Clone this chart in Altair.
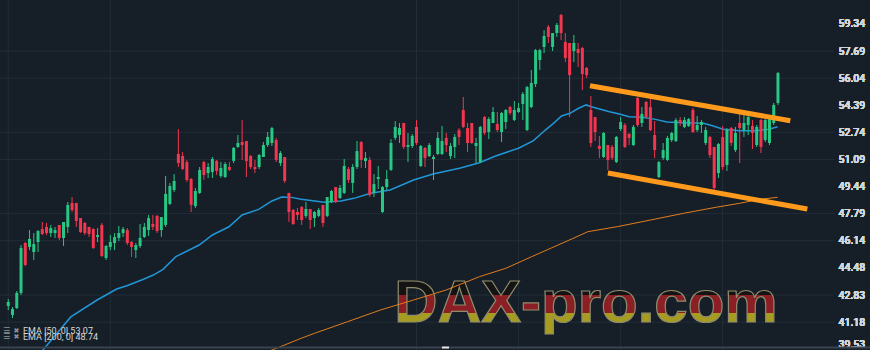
import altair as alt
import pandas as pd

opens = [42.16, 41.62, 42.04, 42.96, 46.00, 45.76, 45.45, 46.06, 46.85, 46.98,
         46.61, 46.61, 47.10, 46.31, 46.98, 48.44, 48.44, 47.52, 47.22, 46.98,
         46.85, 46.37, 47.10, 45.09, 45.76, 46.00, 46.31, 46.61, 46.79, 46.06,
         45.57, 45.82, 46.37, 46.79, 47.16, 47.65, 46.79, 47.10, 48.38, 49.23,
         51.42, 51.30, 50.93, 49.90, 48.25, 49.05, 50.93, 50.26, 50.32, 51.00,
         50.08, 50.02, 50.63, 51.00, 51.85, 52.15, 52.21, 51.30, 50.63, 50.63,
         51.24, 51.97, 52.09, 52.27, 50.87, 51.24, 49.05, 48.01, 47.89, 48.19,
         47.65, 48.07, 47.52, 47.65, 48.32, 47.65, 48.50, 49.41, 48.74, 49.05,
         50.51, 49.66, 50.63, 52.15, 50.99, 51.06, 49.05, 49.90, 47.89, 49.41,
         50.45, 52.40, 52.58, 53.31, 51.85, 51.91, 53.07, 50.69, 51.79, 51.30,
         51.12, 51.42, 51.42, 52.40, 51.30, 51.85, 52.88, 54.10, 53.00, 53.31,
         51.91, 50.93, 53.67, 52.76, 53.31, 53.25, 52.76, 53.37, 54.28, 53.49,
         53.98, 54.47, 52.88, 54.28, 55.68, 57.15, 57.94, 59.16, 57.94, 58.79,
         59.89, 58.24, 58.18, 57.69, 57.82, 57.88, 56.66, 54.10, 53.67, 51.91,
         51.24, 51.97, 51.85, 50.93, 52.94, 53.19, 52.64, 51.97, 54.83, 53.31,
         54.59, 54.28, 52.58, 50.02, 51.18, 51.06, 52.27, 52.21, 53.49, 53.07,
         53.13, 54.10, 52.88, 53.19, 52.09, 52.46, 51.85, 50.26, 52.46, 50.75,
         53.00, 51.66, 53.31, 52.88, 53.19, 53.13, 51.97, 53.49, 52.27, 52.09,
         53.31, 54.53]

highs = [42.59, 42.10, 43.08, 45.88, 46.06, 46.79, 46.61, 46.79, 47.28, 47.22,
         47.10, 46.98, 47.10, 47.28, 48.50, 48.80, 48.44, 47.52, 47.28, 46.98,
         46.91, 46.91, 47.22, 45.88, 46.49, 46.61, 47.04, 46.98, 46.91, 46.12,
         46.00, 47.16, 47.22, 47.71, 47.71, 47.71, 47.58, 50.08, 49.66, 50.20,
         52.94, 51.54, 51.06, 49.96, 49.35, 50.63, 51.00, 50.87, 51.24, 51.06,
         50.93, 50.93, 50.93, 51.85, 52.58, 53.49, 52.21, 51.36, 51.06, 51.42,
         52.15, 52.76, 53.07, 52.40, 51.60, 51.24, 49.05, 48.07, 48.13, 48.25,
         48.50, 48.07, 47.95, 48.13, 48.32, 48.80, 49.23, 49.41, 49.53, 51.12,
         50.63, 50.81, 52.21, 52.21, 51.54, 51.24, 50.20, 50.69, 49.47, 50.45,
         52.33, 53.43, 53.31, 53.31, 52.70, 52.64, 53.49, 51.97, 51.85, 52.09,
         51.36, 52.76, 53.13, 52.70, 52.09, 52.64, 53.00, 54.89, 53.31, 53.31,
         52.40, 53.13, 53.74, 53.67, 54.28, 53.98, 53.98, 54.16, 54.35, 54.65,
         54.53, 55.20, 55.56, 56.54, 57.82, 57.82, 58.97, 59.28, 58.79, 59.40,
         59.95, 58.79, 58.18, 58.67, 58.18, 57.94, 56.72, 54.95, 53.67, 52.52,
         52.76, 51.97, 51.97, 52.52, 53.67, 53.31, 52.70, 53.19, 54.89, 54.28,
         54.65, 54.89, 53.43, 51.00, 52.09, 52.52, 52.76, 53.61, 53.67, 53.67,
         53.61, 54.22, 53.74, 53.49, 53.07, 52.52, 51.85, 52.09, 53.13, 53.00,
         53.07, 53.07, 53.92, 53.86, 53.86, 53.49, 53.19, 53.55, 53.55, 53.61,
         54.53, 56.42]

lows = [41.92, 41.43, 41.98, 42.83, 44.60, 45.57, 44.97, 45.45, 46.49, 46.49,
        46.37, 46.31, 46.18, 45.82, 46.61, 47.89, 46.98, 46.61, 46.49, 46.37,
        45.64, 46.06, 45.15, 44.97, 45.57, 45.57, 46.12, 46.37, 45.88, 45.15,
        45.09, 45.70, 46.31, 46.43, 46.79, 46.61, 46.37, 46.98, 48.32, 49.11,
        50.63, 50.45, 49.72, 47.89, 48.13, 48.99, 49.84, 49.96, 49.96, 50.14,
        49.96, 49.96, 50.39, 50.87, 51.79, 51.06, 50.02, 50.51, 50.26, 50.51,
        51.24, 51.85, 51.91, 50.93, 50.69, 49.66, 47.28, 47.10, 47.40, 47.10,
        47.52, 46.85, 46.98, 47.58, 46.98, 47.58, 48.44, 48.44, 48.68, 48.99,
        49.66, 49.05, 50.51, 50.57, 50.57, 48.80, 48.80, 49.29, 47.83, 49.23,
        50.39, 52.27, 52.09, 51.73, 50.93, 51.79, 51.97, 50.63, 50.63, 51.24,
        49.84, 51.36, 51.36, 51.54, 51.12, 51.18, 51.97, 53.00, 51.54, 52.03,
        50.87, 50.87, 52.58, 52.33, 53.31, 52.76, 52.15, 52.94, 53.80, 53.43,
        53.92, 53.49, 52.82, 54.22, 55.50, 56.54, 57.57, 58.18, 57.69, 58.55,
        58.36, 57.02, 53.67, 57.02, 56.72, 55.32, 56.05, 51.85, 52.21, 51.18,
        51.18, 50.45, 51.06, 50.87, 52.82, 51.79, 51.97, 51.91, 53.07, 53.07,
        53.61, 52.82, 51.18, 49.96, 51.06, 51.00, 52.15, 52.15, 53.13, 53.00,
        53.07, 52.70, 52.76, 52.70, 51.97, 51.18, 49.23, 49.96, 50.45, 50.39,
        51.91, 51.54, 50.87, 52.46, 52.58, 51.73, 51.85, 51.48, 52.15, 51.97,
        53.19, 54.41]

closes = [42.41, 41.98, 42.96, 45.70, 44.66, 46.25, 45.94, 46.73, 46.55, 46.61,
          46.91, 46.79, 46.31, 47.28, 48.32, 48.01, 47.34, 46.67, 46.61, 46.55,
          45.70, 46.49, 45.21, 45.82, 46.06, 46.37, 46.61, 46.85, 46.00, 45.76,
          45.88, 46.31, 46.98, 47.52, 46.98, 46.73, 47.58, 48.99, 49.47, 49.78,
          50.87, 50.51, 49.84, 48.32, 49.17, 50.45, 50.14, 50.63, 51.12, 50.39,
          50.57, 50.81, 50.45, 51.79, 52.09, 51.97, 50.99, 50.63, 50.51, 51.36,
          51.97, 52.46, 53.00, 51.06, 51.48, 49.78, 47.89, 47.16, 47.71, 47.40,
          48.07, 47.40, 47.89, 48.01, 47.22, 48.80, 49.17, 48.50, 49.35, 50.69,
          49.84, 50.63, 51.60, 51.06, 51.18, 48.93, 49.59, 50.02, 49.41, 49.90,
          52.09, 53.07, 53.00, 51.85, 51.97, 52.52, 52.09, 51.91, 51.18, 51.97,
          51.24, 52.40, 52.21, 51.97, 51.91, 52.46, 52.46, 53.07, 52.09, 52.09,
          52.09, 53.07, 52.70, 53.55, 53.98, 52.88, 53.92, 54.10, 53.92, 54.10,
          54.22, 55.08, 55.50, 55.75, 57.75, 57.75, 58.61, 58.55, 58.79, 59.28,
          58.79, 57.27, 56.23, 58.18, 57.57, 56.29, 56.23, 52.09, 52.76, 51.73,
          52.70, 51.06, 51.18, 52.46, 53.37, 51.85, 52.40, 53.07, 53.19, 53.86,
          53.67, 52.88, 51.66, 50.93, 51.66, 52.40, 52.70, 53.49, 53.31, 53.49,
          53.55, 52.76, 53.19, 53.37, 52.88, 51.36, 49.35, 52.03, 50.63, 52.88,
          52.09, 52.70, 53.00, 53.31, 53.67, 52.70, 53.07, 51.85, 53.49, 53.55,
          54.41, 56.35]

ema50_idx = [6.2, 8.5, 14.7, 20.9, 25.5, 27.9, 31.8, 34.1, 36.4, 39.4, 44.9, 48.0,
             51.9, 55.0, 58.9, 62.0, 64.3, 66.6, 68.9, 74.3, 78.2, 81.3, 85.2, 89.8,
             95.3, 99.9, 106.1, 110.8, 114.6, 120.0, 123.5, 126.3, 128.2, 130.1, 132.1,
             134.0, 135.9, 137.1, 141.4, 143.7, 146.0, 149.1, 152.2, 154.9, 158.8,
             163.5, 165.8, 168.1, 171.9, 175.8, 178.9, 180.9]
ema50_val = [38.88, 39.59, 41.50, 42.53, 43.20, 43.40, 43.79, 44.05, 44.40, 45.17, 45.88, 46.49,
             46.99, 47.71, 48.05, 48.56, 48.80, 48.78, 48.66, 48.48, 48.56, 48.72, 49.03, 49.23,
             49.84, 50.20, 50.55, 50.89, 51.30, 51.77, 52.24, 52.88, 53.29, 53.74, 53.90,
             54.19, 54.41, 54.30, 54.00, 53.86, 53.69, 53.66, 53.53, 53.37, 53.33,
             53.29, 53.13, 52.93, 52.84, 52.84, 52.93, 53.08]

ema200_idx = [60.1, 62.7, 68.9, 72.0, 79.8, 87.5, 95.3, 103.0, 110.8, 117.0, 123.1,
              129.3, 132.8, 136.3, 143.3, 151.0, 158.8, 166.5, 172.0, 176.6, 180.9]
ema200_val = [39.30, 39.55, 40.20, 40.50, 41.21, 41.92, 42.53, 43.14, 43.95, 44.46, 45.17,
              45.88, 46.28, 46.69, 47.00, 47.40, 47.81, 48.18, 48.42, 48.66, 48.78]

upper_idx = [136.8, 183.9]
upper_val = [55.58, 53.45]
lower_idx = [141.0, 187.9]
lower_val = [50.26, 48.07]

tick_values = [59.34, 57.69, 56.04, 54.39, 52.74, 51.09, 49.44, 47.79,
               46.14, 44.48, 42.83, 41.18, 39.53]
top_tick = [60.99]
hgrid_values = [57.69, 56.04, 52.74, 51.09, 47.79, 46.14, 42.83, 41.18]
vgrid_idx = [0, 24, 96, 120, 144, 168]

legend_lines = ["EMA [50, 0] 53.07", "EMA [200, 0] 48.74"]
watermark = ["DAX-pro.com"]

GREEN = "#27c784"
RED = "#f2364f"
BG = "#161f28"
GRID = "#222d37"
LABEL = "#d3d7db"

W, H = 834, 350

candles = pd.DataFrame({
    "i": list(range(len(opens))),
    "o": opens, "h": highs, "l": lows, "c": closes,
})
candles["lo"] = candles[["o", "c"]].min(axis=1)
candles["hi"] = candles[["o", "c"]].max(axis=1)
candles["dir"] = ["up" if c >= o else "down" for o, c in zip(opens, closes)]

xscale = alt.Scale(domain=[-0.767, 193.0], nice=False, zero=False)
yscale = alt.Scale(domain=[39.485, 60.80], nice=False, zero=False)
yaxis = alt.Axis(orient="right", values=tick_values, format=".2f", grid=False,
                 ticks=False, domain=False, title=None, labelColor=LABEL,
                 labelFontSize=10.5, labelFont="Roboto", labelFontWeight=500,
                 labelPadding=4, labelFlush=3, labelAlign="left")


def X(field):
    return alt.X(field, type="quantitative", scale=xscale, axis=None)


def Y(field):
    return alt.Y(field, type="quantitative", scale=yscale, axis=yaxis)


colorenc = alt.Color("dir:N", scale=alt.Scale(domain=["up", "down"], range=[GREEN, RED]),
                     legend=None)

hgrid = alt.Chart(pd.DataFrame({"v": hgrid_values})).mark_rule(
    color=GRID, strokeWidth=1).encode(y=Y("v"))
vgrid = alt.Chart(pd.DataFrame({"i": vgrid_idx})).mark_rule(
    color=GRID, strokeWidth=1).encode(x=X("i"))

grad = {
    "gradient": "linear", "x1": 0, "y1": 0, "x2": 0, "y2": 1,
    "stops": [
        {"offset": 0, "color": "#141414"},
        {"offset": 0.41, "color": "#141414"},
        {"offset": 0.41, "color": "#8c1f25"},
        {"offset": 0.675, "color": "#8c1f25"},
        {"offset": 0.675, "color": "#a69c20"},
        {"offset": 1, "color": "#a69c20"},
    ],
}
wm = alt.Chart(pd.DataFrame({"t": watermark})).mark_text(
    font="Liberation Sans", fontWeight="bold", fontSize=60,
    align="center", baseline="alphabetic", fill=grad, stroke="#8f8c6c",
    strokeWidth=1.2).encode(text="t:N", x=alt.value(586), y=alt.value(322))

ema200 = alt.Chart(pd.DataFrame({"i": ema200_idx, "v": ema200_val})).mark_line(
    color="#e27d1e", strokeWidth=1, clip=True).encode(x=X("i"), y=Y("v"))
ema50 = alt.Chart(pd.DataFrame({"i": ema50_idx, "v": ema50_val})).mark_line(
    color="#2196d6", strokeWidth=1.5, clip=True).encode(x=X("i"), y=Y("v"))

wicks = alt.Chart(candles).mark_rule(strokeWidth=1).encode(
    x=X("i"), y=Y("l"), y2="h", color=colorenc)
bodies = alt.Chart(candles).mark_bar(size=3).encode(
    x=X("i"), y=Y("lo"), y2="hi", color=colorenc)

upper = alt.Chart(pd.DataFrame({"i": upper_idx, "v": upper_val})).mark_line(
    color="#ff9a1c", strokeWidth=5, strokeCap="butt").encode(x=X("i"), y=Y("v"))
lower = alt.Chart(pd.DataFrame({"i": lower_idx, "v": lower_val})).mark_line(
    color="#ff9a1c", strokeWidth=5, strokeCap="butt").encode(x=X("i"), y=Y("v"))

top_label = alt.Chart(pd.DataFrame({"v": top_tick, "t": ["60.99"]})).mark_text(
    align="left", baseline="middle", fontSize=10.5, font="Roboto", fontWeight=500,
    color=LABEL).encode(y=Y("v"), x=alt.value(838), text="t:N")

legend_df = pd.DataFrame({"t": legend_lines, "row": [0, 1]})
row_y = alt.Y("row:O", scale=alt.Scale(domain=[0, 1], range=[328.5, 339.5]), axis=None)
legend_text = alt.Chart(legend_df).mark_text(
    align="left", baseline="middle", fontSize=9, font="Roboto", color="#d5d9dd"
).encode(text="t:N", x=alt.value(23), y=row_y)
icon1 = alt.Chart(legend_df).mark_text(
    align="left", baseline="middle", fontSize=8, font="DejaVu Sans", color="#8a939c", text="☰"
).encode(x=alt.value(3), y=row_y)
icon2 = alt.Chart(legend_df).mark_text(
    align="left", baseline="middle", fontSize=7, font="DejaVu Sans", color="#8a939c", text="✖"
).encode(x=alt.value(13.5), y=row_y)

bottom_bar = alt.Chart(pd.DataFrame({"a": [0]})).mark_rule(
    color="#3a444e", strokeWidth=2).encode(x=alt.value(0), x2=alt.value(870), y=alt.value(347.5))
bottom_knob = alt.Chart(pd.DataFrame({"a": [0]})).mark_rule(
    color="#e6e6e6", strokeWidth=2).encode(x=alt.value(442), x2=alt.value(449), y=alt.value(347.5))

chart = alt.layer(
    hgrid, vgrid, wm, ema200, ema50, wicks, bodies, upper, lower,
    top_label, legend_text, icon1, icon2, bottom_bar, bottom_knob
).resolve_scale(y="shared").properties(
    width=W, height=H,
    autosize=alt.AutoSizeParams(type="none"),
    padding={"left": 0, "top": 0, "right": 36, "bottom": 0},
    background=BG,
).configure_view(stroke=None)

chart.save("out.html", embed_options={"renderer": "svg", "actions": False})
